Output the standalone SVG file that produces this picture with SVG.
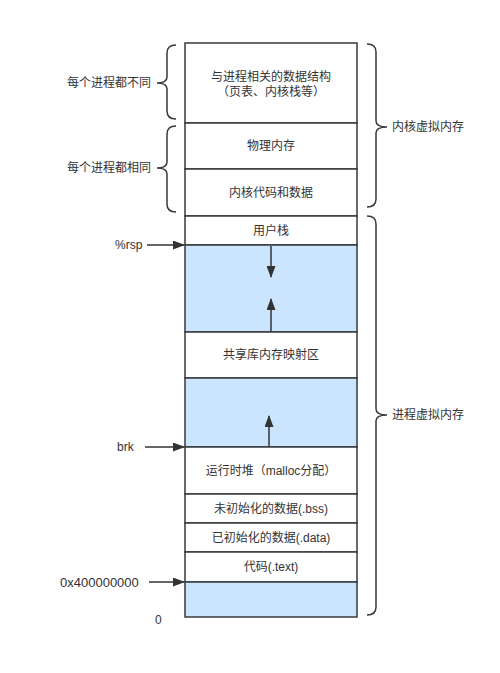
<svg xmlns="http://www.w3.org/2000/svg" width="500" height="673" viewBox="0 0 500 673">
<defs>
<style>
text{font-family:"Liberation Sans","Noto Sans CJK SC",sans-serif;font-size:12px;fill:#333333;}
.c{text-anchor:middle;dominant-baseline:central;}
.l{dominant-baseline:central;}
.box{fill:#ffffff;stroke:#36393d;stroke-width:1.5;}
.blue{fill:#cce5ff;stroke:#36393d;stroke-width:1.5;}
.br{fill:none;stroke:#36393d;stroke-width:1.5;}
.ar{fill:none;stroke:#333333;stroke-width:1.5;marker-end:url(#ah);}
</style>
<marker id="ah" viewBox="0 0 12 9" refX="11" refY="4.5" markerWidth="12" markerHeight="9" markerUnits="userSpaceOnUse" orient="auto"><path d="M0 0 L12 4.5 L0 9 Z" fill="#333333"/></marker>
</defs>
<g id="n-kstruct"><rect class="box" x="185" y="43" width="172" height="80"/><text class="c" x="271" y="77">与进程相关的数据结构</text><text class="c" x="271" y="92">（页表、内核栈等）</text></g>
<g id="n-phys"><rect class="box" x="185" y="123" width="172" height="46"/><text class="c" x="271" y="146">物理内存</text></g>
<g id="n-kcode"><rect class="box" x="185" y="169" width="172" height="47"/><text class="c" x="271" y="193">内核代码和数据</text></g>
<g id="n-ustack"><rect class="box" x="185" y="216" width="172" height="29"/><text class="c" x="271" y="231">用户栈</text></g>
<g id="n-gap1"><rect class="blue" x="185" y="245" width="172" height="87"/></g>
<g id="n-shlib"><rect class="box" x="185" y="332" width="172" height="46"/><text class="c" x="271" y="355">共享库内存映射区</text></g>
<g id="n-gap2"><rect class="blue" x="185" y="378" width="172" height="69"/></g>
<g id="n-heap"><rect class="box" x="185" y="447" width="172" height="47"/><text class="c" x="271" y="471">运行时堆（malloc分配）</text></g>
<g id="n-bss"><rect class="box" x="185" y="494" width="172" height="29"/><text class="c" x="271" y="509">未初始化的数据(.bss)</text></g>
<g id="n-data"><rect class="box" x="185" y="523" width="172" height="29"/><text class="c" x="271" y="538">已初始化的数据(.data)</text></g>
<g id="n-text"><rect class="box" x="185" y="552" width="172" height="30"/><text class="c" x="271" y="567">代码(.text)</text></g>
<g id="n-low"><rect class="blue" x="185" y="582" width="172" height="35"/></g>
<g id="braces">
<path class="br" d="M176 45 Q167 45 167 53 L167 77 Q167 83 157 83 Q167 83 167 89 L167 111 Q167 119 176 119"/>
<text class="l" x="67" y="83">每个进程都不同</text>
<path class="br" d="M176 126 Q167 126 167 134 L167 162 Q167 168 157 168 Q167 168 167 174 L167 204 Q167 212 176 212"/>
<text class="l" x="67" y="168">每个进程都相同</text>
<path class="br" d="M367 44 Q376 44 376 52 L376 121 Q376 127 387 127 Q376 127 376 133 L376 199 Q376 207 367 207"/>
<text class="l" x="392" y="127">内核虚拟内存</text>
<path class="br" d="M367 216 Q376 216 376 224 L376 409 Q376 415 387 415 Q376 415 376 421 L376 607 Q376 615 367 615"/>
<text class="l" x="392" y="415">进程虚拟内存</text>
</g>
<g id="connectors">
<line class="ar" x1="147" y1="245" x2="184" y2="245"/>
<line class="ar" x1="145" y1="447" x2="184" y2="447"/>
<line class="ar" x1="149" y1="582" x2="184" y2="582"/>
<line class="ar" x1="271" y1="246" x2="271" y2="277"/>
<line class="ar" x1="271" y1="331" x2="271" y2="299"/>
<line class="ar" x1="269" y1="446" x2="269" y2="416"/>
</g>
<g id="labels">
<text class="l" x="115" y="245">%rsp</text>
<text class="l" x="117" y="447">brk</text>
<text class="l" x="60" y="582" style="font-size:13px">0x400000000</text>
<text class="l" x="155" y="620">0</text>
</g>
</svg>
